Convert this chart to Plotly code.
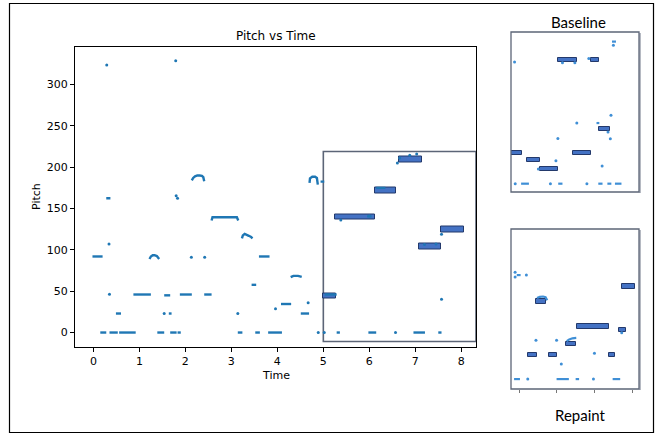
import plotly.graph_objects as go

# ---------------- main plot data (Time, Pitch) ----------------
# flat pitch-track runs: (t_start, t_end, pitch)
main_runs_t0 = [-0.02, 0.28, 0.15, 0.35, 0.56, 0.49, 0.87, 1.39, 1.64, 1.54, 1.67, 1.83, 1.88, 2.41,
                3.14, 3.44, 3.52, 3.60, 3.80, 4.08, 4.51, 4.94, 5.03, 5.29, 5.98, 6.96, 7.50, 6.15, 5.95]
main_runs_t1 = [0.20, 0.37, 0.28, 0.53, 0.92, 0.60, 1.25, 1.54, 1.70, 1.67, 1.81, 1.90, 2.14, 2.57,
                3.24, 3.54, 3.62, 3.83, 4.10, 4.30, 4.69, 5.02, 5.29, 5.36, 6.15, 7.21, 7.57, 6.35, 6.05]
main_runs_p = [92, 162.5, 0, 0, 0, 23, 46, 0, 23, 45, 0, 0, 46, 46,
               0, 57.7, 0, 92, 0, 34.5, 23, 182.5, 46, 0, 0, 0, 0, 175, 140.5]

# curved pitch-track pieces (explicit points)
arc1_t = [1.22, 1.25, 1.29, 1.33, 1.38, 1.41, 1.43]
arc1_p = [89, 92, 93.5, 93.5, 92.5, 91, 89]
arc2_t = [2.14, 2.17, 2.21, 2.26, 2.31, 2.36, 2.39, 2.41]
arc2_p = [184, 187, 189, 190, 190, 189.5, 188, 183]
arc3_t = [2.57, 2.59, 3.12, 3.15]
arc3_p = [135.5, 139.5, 139.5, 135.5]
arc4_t = [3.23, 3.25, 3.29, 3.33, 3.38, 3.43, 3.46]
arc4_p = [114, 117.5, 119.3, 118.7, 117, 115.5, 114]
arc5_t = [4.29, 4.35, 4.45, 4.53]
arc5_p = [67, 68.5, 68.5, 67.3]
arc6_t = [4.70, 4.71, 4.76, 4.82, 4.86, 4.88]
arc6_p = [181, 186.5, 188.5, 188.5, 187, 179]

# isolated pitch points
dots_t = [0.29, 1.79, 0.34, 0.35, 1.80, 1.83, 2.13, 2.42, 1.54, 3.14, 3.96, 4.67, 4.89, 5.02,
          5.38, 6.00, 6.61, 6.66, 6.88, 7.03, 7.20, 7.45, 7.57, 7.57, 6.57]
dots_p = [323.7, 328.9, 107, 46.4, 165.6, 162.5, 91, 91, 23, 23, 28.7, 36, 0, 0,
          136, 141, 205, 211, 214.5, 216, 106.5, 107, 119, 40.4, 0]

# reference notes shown in the inset: start, end, pitch
note_t0 = [5.00, 5.26, 6.13, 6.65, 7.07, 7.56]
note_t1 = [5.27, 6.13, 6.57, 7.15, 7.56, 8.06]
note_p = [44, 139.5, 172, 209.5, 104, 124.7]

x_ticks = [0, 1, 2, 3, 4, 5, 6, 7, 8]
y_ticks = [0, 50, 100, 150, 200, 250, 300]

# ---------------- Baseline panel (relative units 0-100) ----------------
base_n_t0 = [0.3, 12.5, 22.6, 36.4, 48.3, 62.3, 68.4]
base_n_t1 = [8.4, 22.9, 36.6, 51.9, 62.3, 68.7, 77.6]
base_n_p = [24.3, 20.0, 14.4, 82.4, 24.3, 82.4, 39.6]
base_dot_t = [2.8, 40.2, 49.9, 60.8, 80.0, 78.1, 51.4, 75.8, 77.6, 36.6, 35.1, 21.4, 71.2, 3.3, 30.8, 59.3]
base_dot_p = [81.2, 80.8, 80.8, 83.5, 91.7, 47.9, 43.1, 37.5, 33.3, 33.5, 19.6, 14.4, 16.3, 5.2, 5.2, 5.2]
base_run_t0 = [78.9, 66.8, 7.9, 36.9, 68.2, 75.3, 81.2]
base_run_t1 = [82.0, 69.0, 14.0, 40.2, 71.5, 78.4, 86.3]
base_run_p = [94.0, 43.1, 5.2, 5.2, 5.2, 5.2, 5.2]

# ---------------- Repaint panel (relative units 0-100) ----------------
rep_n_t0 = [13.1, 29.4, 19.8, 42.8, 51.9, 76.2, 84.2, 86.9]
rep_n_t1 = [20.6, 35.8, 27.5, 50.8, 76.7, 81.0, 89.8, 96.8]
rep_n_p = [21.2, 21.2, 54.8, 28.2, 39.0, 21.2, 36.9, 64.1]
rep_arc1_t = [20.3, 22.5, 25.0, 27.0, 28.3]
rep_arc1_p = [56.8, 57.6, 57.8, 57.4, 55.4]
rep_arc2_t = [43.5, 45.5, 48.0, 51.0]
rep_arc2_p = [29.9, 31.0, 31.7, 31.9]
rep_dot_t = [3.2, 3.2, 12.0, 19.5, 35.6, 39.3, 65.2, 13.1, 64.4, 86.5]
rep_dot_p = [73.0, 70.0, 71.2, 30.5, 30.5, 15.6, 22.4, 6.2, 6.2, 35.2]
rep_run_t0 = [4.5, 2.4, 35.6, 50.5, 79.4]
rep_run_t1 = [7.5, 7.0, 45.2, 53.2, 85.3]
rep_run_p = [71.2, 6.2, 6.2, 6.2, 6.2]
rep_ticks = [6.4, 35.8, 65.2, 94.7]

# ---------------- helpers ----------------
def runs_xy(t0s, t1s, ps):
    xs, ys = [], []
    for a, b, p in zip(t0s, t1s, ps):
        xs += [a, b, None]
        ys += [p, p, None]
    return xs, ys

def join(*pairs):
    xs, ys = [], []
    for tx, py_ in pairs:
        xs += list(tx) + [None]
        ys += list(py_) + [None]
    return xs, ys

W, H = 660, 435
def px(x):
    return x / W
def py(y):
    return 1 - y / H

MAIN_BLUE = "#1f77b4"
PANEL_BLUE = "#3f8fd6"
NOTE_FILL = "#4472c4"
NOTE_LINE = "#23396b"

fig = go.Figure()

# main pitch track
rx, ry = runs_xy(main_runs_t0, main_runs_t1, main_runs_p)
ax_, ay_ = join((arc1_t, arc1_p), (arc2_t, arc2_p), (arc3_t, arc3_p),
                (arc4_t, arc4_p), (arc5_t, arc5_p), (arc6_t, arc6_p))
fig.add_trace(go.Scatter(x=rx + ax_, y=ry + ay_, mode="lines",
                         line=dict(color=MAIN_BLUE, width=2.4), xaxis="x", yaxis="y",
                         hoverinfo="skip", showlegend=False))
fig.add_trace(go.Scatter(x=dots_t, y=dots_p, mode="markers",
                         marker=dict(color=MAIN_BLUE, size=3), xaxis="x", yaxis="y",
                         showlegend=False))
# inset notes
fig.add_trace(go.Bar(orientation="h", y=note_p,
                     x=[b - a for a, b in zip(note_t0, note_t1)], base=note_t0,
                     width=6.5, marker=dict(color=NOTE_FILL, line=dict(color=NOTE_LINE, width=1)),
                     xaxis="x", yaxis="y", showlegend=False))

# baseline panel
fig.add_trace(go.Bar(orientation="h", y=base_n_p,
                     x=[b - a for a, b in zip(base_n_t0, base_n_t1)], base=base_n_t0,
                     width=2.5, marker=dict(color=NOTE_FILL, line=dict(color=NOTE_LINE, width=1)),
                     xaxis="x2", yaxis="y2", showlegend=False))
bx, by = runs_xy(base_run_t0, base_run_t1, base_run_p)
fig.add_trace(go.Scatter(x=bx, y=by, mode="lines", line=dict(color=PANEL_BLUE, width=2.2),
                         xaxis="x2", yaxis="y2", showlegend=False, hoverinfo="skip"))
fig.add_trace(go.Scatter(x=base_dot_t, y=base_dot_p, mode="markers",
                         marker=dict(color=PANEL_BLUE, size=3), xaxis="x2", yaxis="y2",
                         showlegend=False))

# repaint panel
fig.add_trace(go.Bar(orientation="h", y=rep_n_p,
                     x=[b - a for a, b in zip(rep_n_t0, rep_n_t1)], base=rep_n_t0,
                     width=2.8, marker=dict(color=NOTE_FILL, line=dict(color=NOTE_LINE, width=1)),
                     xaxis="x3", yaxis="y3", showlegend=False))
qx, qy = runs_xy(rep_run_t0, rep_run_t1, rep_run_p)
cx, cy = join((rep_arc1_t, rep_arc1_p), (rep_arc2_t, rep_arc2_p))
fig.add_trace(go.Scatter(x=qx + cx, y=qy + cy, mode="lines", line=dict(color=PANEL_BLUE, width=2.2),
                         xaxis="x3", yaxis="y3", showlegend=False, hoverinfo="skip"))
fig.add_trace(go.Scatter(x=rep_dot_t, y=rep_dot_p, mode="markers",
                         marker=dict(color=PANEL_BLUE, size=3), xaxis="x3", yaxis="y3",
                         showlegend=False))

tickfont = dict(family="DejaVu Sans", size=11, color="#000")
hidden = dict(showgrid=False, zeroline=False, showticklabels=False, ticks="", showline=False)

fig.update_layout(
    width=W, height=H, margin=dict(l=0, r=0, t=0, b=0),
    paper_bgcolor="white", plot_bgcolor="white", barmode="overlay", bargap=0,
    xaxis=dict(domain=[px(75), px(476)], range=[-0.4, 8.32], tickvals=x_ticks,
               ticks="outside", ticklen=4, tickcolor="#000", showline=True, linecolor="#000",
               linewidth=1, mirror=True, showgrid=False, zeroline=False, tickfont=tickfont,
               anchor="y"),
    yaxis=dict(domain=[py(347), py(46.5)], range=[-17.5, 346], tickvals=y_ticks,
               ticks="outside", ticklen=4, tickcolor="#000", showline=True, linecolor="#000",
               linewidth=1, mirror=True, showgrid=False, zeroline=False, tickfont=tickfont,
               anchor="x"),
    xaxis2=dict(domain=[px(511), px(639)], range=[0, 100], anchor="y2", **hidden),
    yaxis2=dict(domain=[py(192), py(32)], range=[0, 100], anchor="x2", **hidden),
    xaxis3=dict(domain=[px(511), px(639)], range=[0, 100], anchor="y3", showgrid=False,
                zeroline=False, showticklabels=False, showline=False, ticks="outside",
                ticklen=3, tickcolor="#777", tickvals=rep_ticks),
    yaxis3=dict(domain=[py(389), py(229)], range=[0, 100], anchor="x3", **hidden),
)

shapes = [
    # outer frame
    dict(type="rect", xref="paper", yref="paper", x0=px(9.5), x1=px(653.5), y0=py(432.5), y1=py(3.5),
         line=dict(color="#000", width=1.2), fillcolor="rgba(0,0,0,0)", layer="above"),
    # inset box on the main plot
    dict(type="rect", xref="x", yref="y", x0=5.0, x1=8.32, y0=-10.9, y1=219,
         line=dict(color="#5c6577", width=1.6), fillcolor="white", layer="below"),
    # baseline panel frame and shadow
    dict(type="line", xref="paper", yref="paper", x0=px(640), x1=px(640), y0=py(193), y1=py(33),
         line=dict(color="#b5b9c2", width=2), layer="above"),
    dict(type="rect", xref="paper", yref="paper", x0=px(511), x1=px(639), y0=py(192), y1=py(32),
         line=dict(color="#5c6577", width=1.3), fillcolor="rgba(0,0,0,0)", layer="above"),
    # repaint panel frame and shadow
    dict(type="line", xref="paper", yref="paper", x0=px(640), x1=px(640), y0=py(390), y1=py(230),
         line=dict(color="#b5b9c2", width=2), layer="above"),
    dict(type="rect", xref="paper", yref="paper", x0=px(511), x1=px(639), y0=py(389), y1=py(229),
         line=dict(color="#5c6577", width=1.3), fillcolor="rgba(0,0,0,0)", layer="above"),
]
fig.update_layout(shapes=shapes)

ann = [
    dict(text="Pitch vs Time", x=px(275.5), y=py(36), font=dict(family="DejaVu Sans", size=12, color="#000")),
    dict(text="Time", x=px(275.5), y=py(375), font=dict(family="DejaVu Sans", size=11, color="#000")),
    dict(text="Pitch", x=px(36), y=py(197), textangle=-90, font=dict(family="DejaVu Sans", size=11, color="#000")),
    dict(text="Baseline", x=px(578), y=py(22), font=dict(family="Lato", size=15, color="#000")),
    dict(text="Repaint", x=px(580), y=py(415), font=dict(family="Lato", size=15, color="#000")),
]
for a in ann:
    a.update(xref="paper", yref="paper", showarrow=False, xanchor="center", yanchor="middle")
fig.update_layout(annotations=ann)

fig.write_html("out.html", config={"displayModeBar": False},
               post_script="document.body.style.margin='0';document.body.style.padding='0';")
